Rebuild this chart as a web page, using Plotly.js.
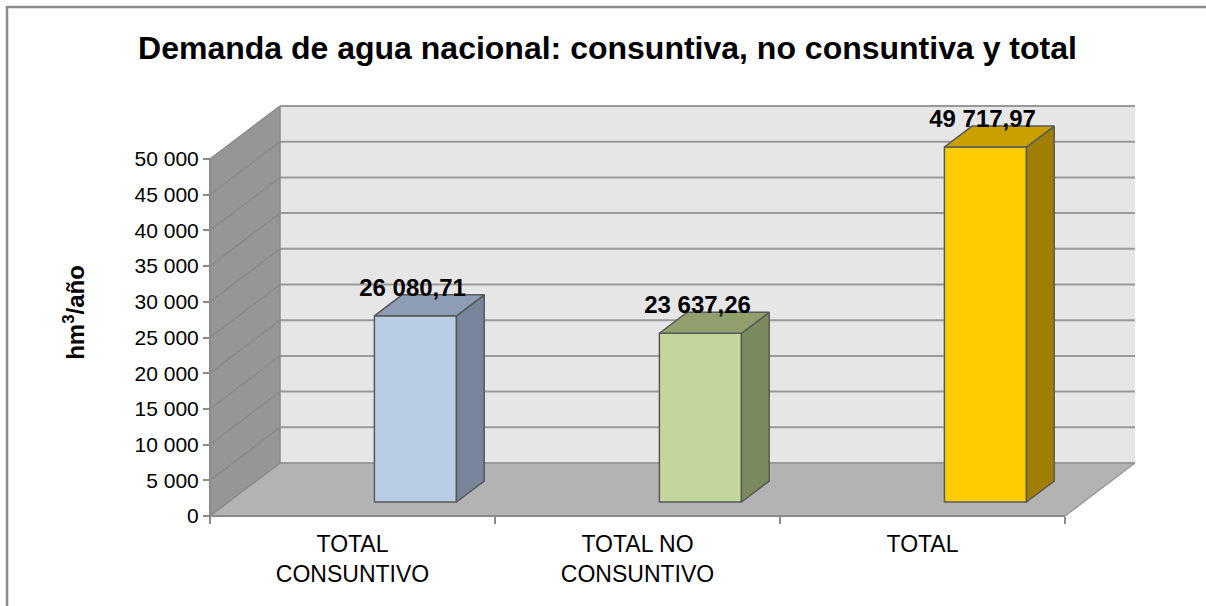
<!DOCTYPE html>
<html>
<head>
<meta charset="utf-8">
<script src="https://cdn.plot.ly/plotly-3.0.1.min.js"></script>
<style>html,body{margin:0;padding:0;background:#fff;}#chart{width:1206px;height:606px;}</style>
</head>
<body>
<div id="chart"></div>
<script>
// ---- data ----
const categories = ['TOTAL<br>CONSUNTIVO', 'TOTAL NO<br>CONSUNTIVO', 'TOTAL'];
const values = [26080.71, 23637.26, 49717.97];
const frontColors = ['#b9cde5', '#c3d69b', '#ffcc00'];
const topColors = ['#8d9db5', '#909f6c', '#c9a000'];
const sideColors = ['#76859a', '#7b8a5d', '#a07f00'];
const yTickVals = [0, 5000, 10000, 15000, 20000, 25000, 30000, 35000, 40000, 45000, 50000];
const chartTitle = 'Demanda de agua nacional: consuntiva, no consuntiva y total';
const yTitle = 'hm<sup>3</sup>/año';

// ---- geometry (pixel layout of the pseudo-3D frame) ----
const W = 1206, H = 606;
const plotL = 200, plotR = 1145, plotT = 100, plotB = 525;
const frontX0 = 210, catPx = 285;          // category -0.5 at px 210
const zeroY = 516, valPx = 357 / 50000;     // value 0 at px 516
const xRange = [-0.5 - (frontX0 - plotL) / catPx, -0.5 + (plotR - frontX0) / catPx];
const yRange = [-(plotB - zeroY) / valPx, (zeroY - plotT) / valPx];
const DX = 70 / catPx, DY = 53 / valPx;     // depth offset (full depth)
const D0 = 0.264, D1 = 0.66;                // bar depth span
const BAR_OFF = 0.012, BAR_W = 0.288;
const vMax = yTickVals[yTickVals.length - 1];
const xMin = -0.5, xMax = categories.length - 0.5;

function P(x, v, d) { return [x + d * DX, v + d * DY]; }
function pathOf(pts) { return 'M' + pts.map(p => p[0] + ',' + p[1]).join(' L') + ' Z'; }

const gridColor = '#999999';
const shapes = [];
// back wall
shapes.push({type: 'path', xref: 'x', yref: 'y', layer: 'below',
  path: pathOf([P(xMin, 0, 1), P(xMax, 0, 1), P(xMax, vMax, 1), P(xMin, vMax, 1)]),
  fillcolor: '#e6e6e6', line: {width: 0}});
// side wall
shapes.push({type: 'path', xref: 'x', yref: 'y', layer: 'below',
  path: pathOf([P(xMin, 0, 0), P(xMin, 0, 1), P(xMin, vMax, 1), P(xMin, vMax, 0)]),
  fillcolor: '#969696', line: {width: 0}});
// floor
shapes.push({type: 'path', xref: 'x', yref: 'y', layer: 'below',
  path: pathOf([P(xMin, 0, 0), P(xMax, 0, 0), P(xMax, 0, 1), P(xMin, 0, 1)]),
  fillcolor: '#b3b3b3', line: {width: 0}});
// gridlines on back wall and side wall
yTickVals.forEach(v => {
  const a = P(xMin, v, 1), b = P(xMax, v, 1), c = P(xMin, v, 0);
  shapes.push({type: 'line', xref: 'x', yref: 'y', layer: 'below', x0: a[0], y0: a[1], x1: b[0], y1: b[1], line: {color: gridColor, width: 2}});
  shapes.push({type: 'line', xref: 'x', yref: 'y', layer: 'below', x0: c[0], y0: c[1], x1: a[0], y1: a[1], line: {color: '#8a8a8a', width: 1.5}});
});
// wall edges
(function () {
  const a = P(xMin, 0, 1), b = P(xMin, vMax, 1);
  shapes.push({type: 'line', xref: 'x', yref: 'y', layer: 'below', x0: a[0], y0: a[1], x1: b[0], y1: b[1], line: {color: '#8a8a8a', width: 1.5}});
  const c = P(xMin, 0, 0), d = P(xMin, vMax, 0);
  shapes.push({type: 'line', xref: 'x', yref: 'y', layer: 'below', x0: c[0], y0: c[1], x1: d[0], y1: d[1], line: {color: '#8a8a8a', width: 2}});
  const e = P(xMin, 0, 0), f = P(xMax, 0, 0);
  shapes.push({type: 'line', xref: 'x', yref: 'y', layer: 'below', x0: e[0], y0: e[1], x1: f[0], y1: f[1], line: {color: '#8a8a8a', width: 2}});
  const g = P(xMax, 0, 0), h = P(xMax, 0, 1);
  shapes.push({type: 'line', xref: 'x', yref: 'y', layer: 'below', x0: g[0], y0: g[1], x1: h[0], y1: h[1], line: {color: '#9a9a9a', width: 1.5}});
})();
// outer chart border
shapes.push({type: 'rect', xref: 'paper', yref: 'paper',
  x0: (7 - plotL) / (plotR - plotL), x1: (W + 10 - plotL) / (plotR - plotL),
  y0: (plotB - (H + 10)) / (plotB - plotT), y1: (plotB - 7) / (plotB - plotT),
  line: {color: '#8c8c8c', width: 2.5}, fillcolor: 'rgba(0,0,0,0)', layer: 'below'});

const edge = {color: '#595959', width: 1.5};
const traces = [];
// front faces of bars
traces.push({
  type: 'bar',
  x: values.map((v, i) => i + BAR_OFF + BAR_W / 2 + D0 * DX),
  y: values,
  base: values.map(() => D0 * DY),
  width: BAR_W,
  marker: {color: frontColors, line: edge},
  hoverinfo: 'skip', showlegend: false
});
// side and top faces
values.forEach((v, i) => {
  const x0 = i + BAR_OFF, x1 = x0 + BAR_W;
  const side = [P(x1, 0, D0), P(x1, 0, D1), P(x1, v, D1), P(x1, v, D0), P(x1, 0, D0)];
  const top = [P(x0, v, D0), P(x1, v, D0), P(x1, v, D1), P(x0, v, D1), P(x0, v, D0)];
  [[side, sideColors[i]], [top, topColors[i]]].forEach(([pts, col]) => {
    traces.push({type: 'scatter', mode: 'lines', x: pts.map(p => p[0]), y: pts.map(p => p[1]),
      fill: 'toself', fillcolor: col, line: edge, hoverinfo: 'skip', showlegend: false});
  });
});
// data labels
traces.push({
  type: 'scatter', mode: 'text',
  x: values.map((v, i) => i + BAR_OFF + BAR_W / 2 + D0 * DX - 0.01),
  y: values.map(v => v + D1 * DY + 5 / valPx),
  customdata: values,
  texttemplate: '%{customdata:,.2f}',
  textposition: 'middle center',
  textfont: {family: 'Liberation Sans, Arial, sans-serif', size: 24, color: '#000', weight: 'bold'},
  cliponaxis: false, hoverinfo: 'skip', showlegend: false
});

const font = 'Liberation Sans, Arial, sans-serif';
const layout = {
  width: W, height: H,
  margin: {l: plotL, r: W - plotR, t: plotT, b: H - plotB, autoexpand: false},
  paper_bgcolor: '#ffffff', plot_bgcolor: 'rgba(0,0,0,0)',
  separators: ', ',
  font: {family: font, color: '#000'},
  showlegend: false,
  title: {text: '<b>' + chartTitle + '</b>', font: {family: font, size: 32, color: '#000'},
    x: 0.5037, xref: 'container', xanchor: 'center', y: 1 - 48 / H, yref: 'container', yanchor: 'middle'},
  xaxis: {
    range: xRange, anchor: 'free', position: (plotB - zeroY) / (plotB - plotT),
    tickmode: 'array', tickvals: categories.map((c, i) => i), ticktext: categories,
    ticks: '', showgrid: false, zeroline: false, showline: false,
    tickfont: {family: font, size: 23, color: '#000'},
    ticklabelstandoff: 12,
    minor: {tickmode: 'array', tickvals: categories.map((c, i) => i - 0.5).concat([categories.length - 0.5]),
      ticks: 'outside', ticklen: 7, tickwidth: 2, tickcolor: '#8a8a8a', showgrid: false},
    fixedrange: true
  },
  yaxis: {
    range: yRange, anchor: 'free', position: (frontX0 - plotL) / (plotR - plotL),
    tickmode: 'array', tickvals: yTickVals, tickformat: ',d',
    ticks: 'outside', ticklen: 7, tickwidth: 2, tickcolor: '#8a8a8a',
    showgrid: false, zeroline: false, showline: false,
    tickfont: {family: font, size: 21, color: '#000'},
    title: {text: '<b>' + yTitle + '</b>', font: {family: font, size: 24, color: '#000'}, standoff: 42},
    fixedrange: true
  },
  shapes: shapes
};

Plotly.newPlot('chart', traces, layout, {staticPlot: true, displayModeBar: false});
</script>
</body>
</html>
